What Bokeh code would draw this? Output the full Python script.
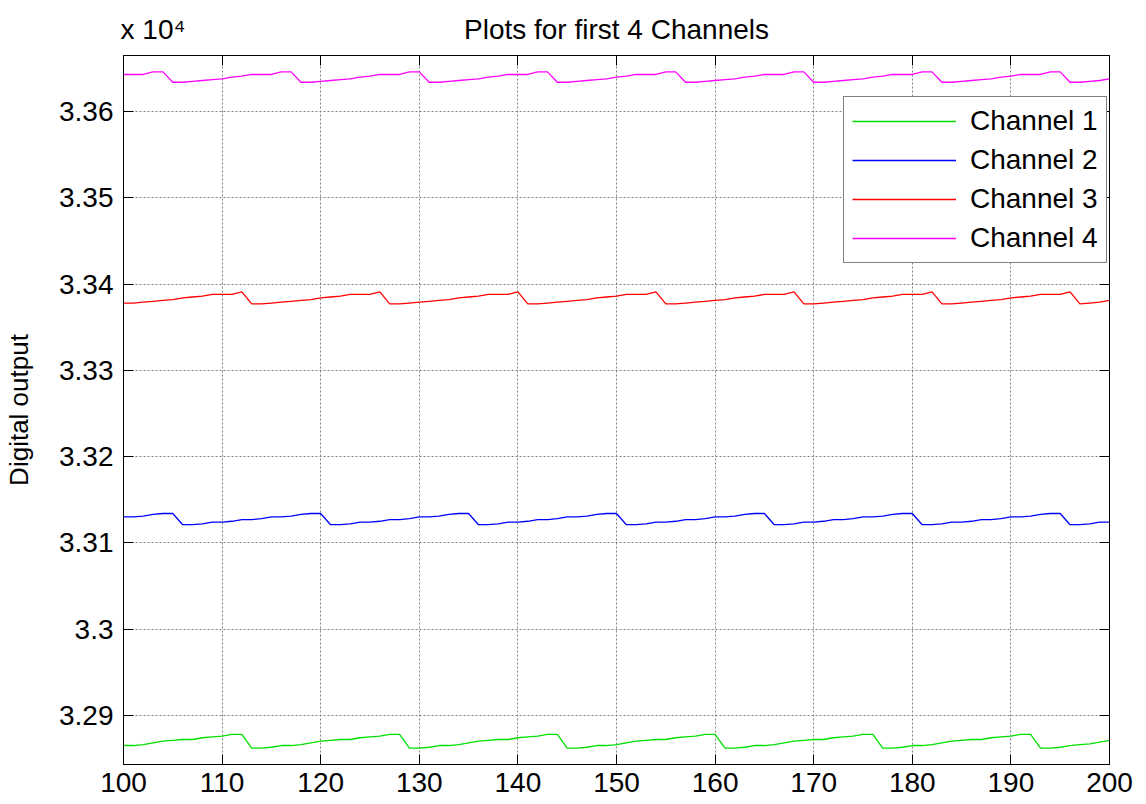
from bokeh.plotting import figure
from bokeh.models import LinearAxis, FixedTicker, Range1d
from bokeh.embed import file_html
from bokeh.resources import INLINE

# ---------------- data ----------------
sample = list(range(100, 201))

channel_1 = [
    32865, 32865, 32866, 32868, 32870, 32871, 32872, 32872, 32874, 32875,
    32876, 32878, 32878, 32862, 32862, 32863, 32865, 32865, 32866, 32868,
    32870, 32871, 32872, 32872, 32874, 32875, 32876, 32878, 32878, 32862,
    32862, 32863, 32865, 32865, 32866, 32868, 32870, 32871, 32872, 32872,
    32874, 32875, 32876, 32878, 32878, 32862, 32862, 32863, 32865, 32865,
    32866, 32868, 32870, 32871, 32872, 32872, 32874, 32875, 32876, 32878,
    32878, 32862, 32862, 32863, 32865, 32865, 32866, 32868, 32870, 32871,
    32872, 32872, 32874, 32875, 32876, 32878, 32878, 32862, 32862, 32863,
    32865, 32865, 32866, 32868, 32870, 32871, 32872, 32872, 32874, 32875,
    32876, 32878, 32878, 32862, 32862, 32863, 32865, 32866, 32867, 32869,
    32871,
]

channel_2 = [
    33130, 33130, 33131, 33133, 33134, 33134, 33121, 33121, 33122, 33124,
    33124, 33125, 33127, 33127, 33128, 33130, 33130, 33131, 33133, 33134,
    33134, 33121, 33121, 33122, 33124, 33124, 33125, 33127, 33127, 33128,
    33130, 33130, 33131, 33133, 33134, 33134, 33121, 33121, 33122, 33124,
    33124, 33125, 33127, 33127, 33128, 33130, 33130, 33131, 33133, 33134,
    33134, 33121, 33121, 33122, 33124, 33124, 33125, 33127, 33127, 33128,
    33130, 33130, 33131, 33133, 33134, 33134, 33121, 33121, 33122, 33124,
    33124, 33125, 33127, 33127, 33128, 33130, 33130, 33131, 33133, 33134,
    33134, 33121, 33121, 33122, 33124, 33124, 33125, 33127, 33127, 33128,
    33130, 33130, 33131, 33133, 33134, 33134, 33121, 33121, 33122, 33124,
    33124,
]

channel_3 = [
    33378, 33378, 33379, 33380, 33381, 33382, 33384, 33385, 33386, 33388,
    33388, 33388, 33391, 33377, 33377, 33378, 33379, 33380, 33381, 33382,
    33384, 33385, 33386, 33388, 33388, 33388, 33391, 33377, 33377, 33378,
    33379, 33380, 33381, 33382, 33384, 33385, 33386, 33388, 33388, 33388,
    33391, 33377, 33377, 33378, 33379, 33380, 33381, 33382, 33384, 33385,
    33386, 33388, 33388, 33388, 33391, 33377, 33377, 33378, 33379, 33380,
    33381, 33382, 33384, 33385, 33386, 33388, 33388, 33388, 33391, 33377,
    33377, 33378, 33379, 33380, 33381, 33382, 33384, 33385, 33386, 33388,
    33388, 33388, 33391, 33377, 33377, 33378, 33379, 33380, 33381, 33382,
    33384, 33385, 33386, 33388, 33388, 33388, 33391, 33377, 33378, 33379,
    33381,
]

channel_4 = [
    33643, 33643, 33643, 33646, 33646, 33634, 33634, 33635, 33636, 33637,
    33638, 33640, 33641, 33643, 33643, 33643, 33646, 33646, 33634, 33634,
    33635, 33636, 33637, 33638, 33640, 33641, 33643, 33643, 33643, 33646,
    33646, 33634, 33634, 33635, 33636, 33637, 33638, 33640, 33641, 33643,
    33643, 33643, 33646, 33646, 33634, 33634, 33635, 33636, 33637, 33638,
    33640, 33641, 33643, 33643, 33643, 33646, 33646, 33634, 33634, 33635,
    33636, 33637, 33638, 33640, 33641, 33643, 33643, 33643, 33646, 33646,
    33634, 33634, 33635, 33636, 33637, 33638, 33640, 33641, 33643, 33643,
    33643, 33646, 33646, 33634, 33634, 33635, 33636, 33637, 33638, 33640,
    33641, 33643, 33643, 33643, 33646, 33646, 33634, 33634, 33635, 33636,
    33638,
]

series_names = ["Channel 1", "Channel 2", "Channel 3", "Channel 4"]
series_colors = ["#00e000", "#0000ff", "#ff0000", "#ff00ff"]

x_ticks = [100, 110, 120, 130, 140, 150, 160, 170, 180, 190, 200]
y_ticks = [32900, 33000, 33100, 33200, 33300, 33400, 33500, 33600]
y_tick_labels = ["3.29", "3.3", "3.31", "3.32", "3.33", "3.34", "3.35", "3.36"]

title_text = "Plots for first 4 Channels"
y_label_text = "Digital output"
exponent_text = "x 10\u2074"
# anchor positions (data x) for the texts written above the frame
header_positions = [103, 150]
header_texts = [exponent_text, title_text]

FONT = "Liberation Sans"

# ---------------- figure ----------------
p = figure(
    width=1146, height=804,
    x_range=Range1d(100, 200), y_range=Range1d(32843, 33665),
    output_backend="svg", toolbar_location=None,
    min_border_left=123, min_border_right=37, min_border_top=55, min_border_bottom=40,
    background_fill_color="white", border_fill_color="white",
)
p.outline_line_color = "black"
p.outline_line_width = 1

xa = p.xaxis[0]
ya = p.yaxis[0]
xa.ticker = FixedTicker(ticks=x_ticks)
ya.ticker = FixedTicker(ticks=y_ticks)
ya.major_label_overrides = {t: s for t, s in zip(y_ticks, y_tick_labels)}
ya.axis_label = y_label_text
ya.axis_label_text_font = FONT
ya.axis_label_text_font_size = "26px"
ya.axis_label_text_font_style = "normal"
ya.axis_label_text_color = "black"
ya.axis_label_standoff = 22

for ax in (xa, ya):
    ax.major_tick_in = 10
    ax.major_tick_out = 0
    ax.minor_tick_line_color = None
    ax.axis_line_color = "black"
    ax.major_tick_line_color = "black"
    ax.major_label_text_font = FONT
    ax.major_label_text_font_size = "28px"
    ax.major_label_text_color = "black"
xa.major_label_standoff = 8
ya.major_label_standoff = 10

# ticks on the top and right edges (box on)
top_ax = LinearAxis(ticker=FixedTicker(ticks=x_ticks))
top_ax.major_label_overrides = {t: "" for t in x_ticks}
right_ax = LinearAxis(ticker=FixedTicker(ticks=y_ticks))
right_ax.major_label_overrides = {t: "" for t in y_ticks}
for ax in (top_ax, right_ax):
    ax.major_tick_in = 10
    ax.major_tick_out = 0
    ax.minor_tick_line_color = None
    ax.axis_line_color = "black"
    ax.major_tick_line_color = "black"
    ax.major_label_text_font_size = "1px"
    ax.major_label_standoff = 0
p.add_layout(top_ax, "above")
p.add_layout(right_ax, "right")

# header row: exponent marker and title
head_ax = LinearAxis(ticker=FixedTicker(ticks=header_positions))
head_ax.major_label_overrides = {t: s for t, s in zip(header_positions, header_texts)}
head_ax.major_tick_in = 0
head_ax.major_tick_out = 0
head_ax.major_tick_line_color = None
head_ax.minor_tick_line_color = None
head_ax.axis_line_color = None
head_ax.major_label_standoff = 11
head_ax.major_label_text_font = FONT
head_ax.major_label_text_font_size = "28px"
head_ax.major_label_text_color = "black"
p.add_layout(head_ax, "above")

# dotted grid
p.xgrid.ticker = FixedTicker(ticks=x_ticks)
p.ygrid.ticker = FixedTicker(ticks=y_ticks)
p.grid.grid_line_color = "#808080"
p.grid.grid_line_dash = "2 2"
p.grid.grid_line_width = 1

# lines
for name, color, vals in zip(series_names, series_colors,
                             [channel_1, channel_2, channel_3, channel_4]):
    p.line(sample, vals, line_color=color, line_width=1.3, legend_label=name)

leg = p.legend[0]
leg.location = (720, 501)
leg.border_line_color = "black"
leg.border_line_width = 1
leg.background_fill_color = "white"
leg.background_fill_alpha = 1
leg.label_text_font = FONT
leg.label_text_font_size = "28px"
leg.label_text_color = "black"
leg.glyph_width = 104
leg.glyph_height = 20
leg.label_standoff = 14
leg.padding = 8
leg.spacing = 7
leg.margin = 0

open("out.html", "w").write(file_html(p, INLINE))
